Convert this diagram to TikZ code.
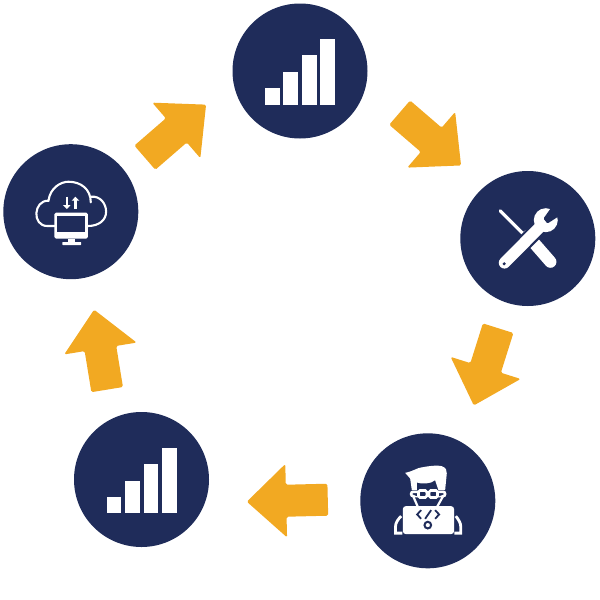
\documentclass[tikz,border=0pt]{standalone}
\usepackage{xcolor}
\usepackage{tikz}
\usetikzlibrary {arrows.meta,
                 positioning,
                 shapes.arrows}
\definecolor{hubblue}{HTML}{1F2C5A}
\definecolor{floworange}{HTML}{F2A922}
\tikzset{
    hub/.style={circle, fill=hubblue, minimum size=135pt, inner sep=0pt},
    flow/.style={single arrow, fill=floworange, anchor=tail,
                 inner xsep=0pt, inner ysep=15.8pt,
                 minimum height=81pt, minimum width=73pt,
                 single arrow head extend=20.7pt, single arrow tip angle=86,
                 rounded corners=1.5pt},
    icon/.style={x=0.333pt, y=-0.333pt},
    thinwhite/.style={draw=white, line width=2.1pt},
    bars/.pic={
        \fill[white] (-35,17.3) rectangle (-20.3,33.7);
        \fill[white] (-16.7,1) rectangle (-2,33.7);
        \fill[white] (2,-15.7) rectangle (16.7,33.7);
        \fill[white] (20.3,-31.7) rectangle (35,33.7);
    },
}

\begin{document}
\begin{tikzpicture}[x=1pt, y=-1pt]
    \useasboundingbox (0,0) rectangle (600,600);

    \node[hub] (trendtop) at (300,71) {};
    \node[hub] (tools) at (527.8,238.5) {};
    \node[hub] (coder) at (427.8,500.8) {};
    \node[hub] (trendlow) at (141.5,479.5) {};
    \node[hub] (cloud) at (70.8,211.7) {};

    \node[flow, rotate=-40.7] (flowa) at (399.5,112.5) {};
    \node[flow, rotate=-107.5] (flowb) at (498.2,328) {};
    \node[flow, rotate=181.4] (flowc) at (328,499.7) {};
    \node[flow, rotate=99.3] (flowd) at (107.2,389.8) {};
    \node[flow, rotate=40.9] (flowe) at (144.7,157.8) {};

    \pic at (trendtop) {bars};
    \pic at (trendlow) {bars};

    % cloud and monitor
    \begin{scope}[shift={(cloud.center)}, icon]
        \draw[thinwhite, line cap=round] (-49,43) -- (-70,43)
            .. controls (-118,43) and (-112,-35) .. (-67,-33)
            .. controls (-62,-72) and (-30,-90) .. (-7,-90)
            .. controls (30,-90) and (60,-68) .. (60,-28);
        \draw[thinwhite, line cap=round] (60,-45)
            .. controls (88,-48) and (106,-25) .. (106,0)
            .. controls (106,25) and (85,43) .. (51,43);
        \fill[white, rounded corners=1.5pt] (-49,3) rectangle (51,81);
        \fill[hubblue] (-40,12) rectangle (43,60);
        \fill[white] (-8,81) rectangle (13,93);
        \fill[white, rounded corners=0.5pt] (-25,91) rectangle (31,100);
        \draw[white, line width=2.4pt, -{Triangle[length=4pt, width=7.5pt]}] (-12,-45) -- (-12,-8);
        \draw[white, line width=2.4pt, -{Triangle[length=4pt, width=7.5pt]}] (14,-8) -- (14,-45);
    \end{scope}

    % screwdriver and wrench
    \begin{scope}[shift={(tools.center)}, icon]
        \draw[white, line width=3.2pt, line cap=round] (-83,-83) -- (0,0);
        \draw[white, line width=12pt, line cap=round] (0,-8) -- (68,70);
        \draw[hubblue, line width=16pt] (-50,53) -- (40,-38);
        \draw[white, line width=11.5pt, line cap=round] (-70,73) -- (42,-40);
        \fill[white] (54,-55) circle (36);
        \fill[hubblue, rounded corners=1pt] (47,-60) -- (59,-45) -- (95,-68) -- (72,-95) -- cycle;
        \fill[hubblue] (-71,76) circle (5);
    \end{scope}

    % programmer behind laptop
    \begin{scope}[shift={(coder.center)}, icon]
        \fill[white] (-68,-84) .. controls (-40,-90) and (-30,-100) .. (-20,-100)
            .. controls (0,-104) and (30,-108) .. (42,-104)
            .. controls (55,-100) and (58,-90) .. (57,-82)
            -- (52,-32) -- (32,-32) -- (22,-62)
            .. controls (10,-50) and (-20,-50) .. (-33,-55)
            -- (-33,-32) -- (-48,-32) -- (-53,-67) -- cycle;
        \draw[white, line width=2.6pt, rounded corners=1.5pt] (-28,-31) rectangle (-3,-10);
        \draw[white, line width=2.6pt, rounded corners=1.5pt] (4,-31) rectangle (29,-10);
        \draw[white, line width=2.6pt] (-3,-27) -- (4,-27);
        \draw[white, line width=2.6pt, rounded corners=2pt] (-28,-27) -- (-50,-27) -- (-50,-14) -- (-44,-14);
        \draw[white, line width=2.6pt, rounded corners=2pt] (29,-27) -- (52,-27) -- (52,-14) -- (46,-14);
        \draw[white, line width=2.2pt] (-44,-14) -- (-30,18);
        \draw[white, line width=2.2pt] (46,-14) -- (28,18);
        \fill[white, rounded corners=3pt] (-75,100) -- (-75,16) -- (79,16) -- (79,100) -- cycle;
        \draw[hubblue, line width=1.8pt] (-20,28) -- (-32,41) -- (-20,54);
        \draw[hubblue, line width=1.8pt] (22,28) -- (34,41) -- (22,54);
        \draw[hubblue, line width=1.8pt] (10,28) -- (-8,54);
        \draw[hubblue, line width=2pt] (0,73) circle (10);
        \draw[white, line width=2.8pt] (-76,97) -- (-97,97) -- (-97,78)
            .. controls (-97,66) and (-90,56) .. (-80,46);
        \draw[white, line width=2.8pt] (80,97) -- (99,97) -- (99,78)
            .. controls (99,66) and (92,56) .. (84,46);
    \end{scope}

\end{tikzpicture}
\end{document}
